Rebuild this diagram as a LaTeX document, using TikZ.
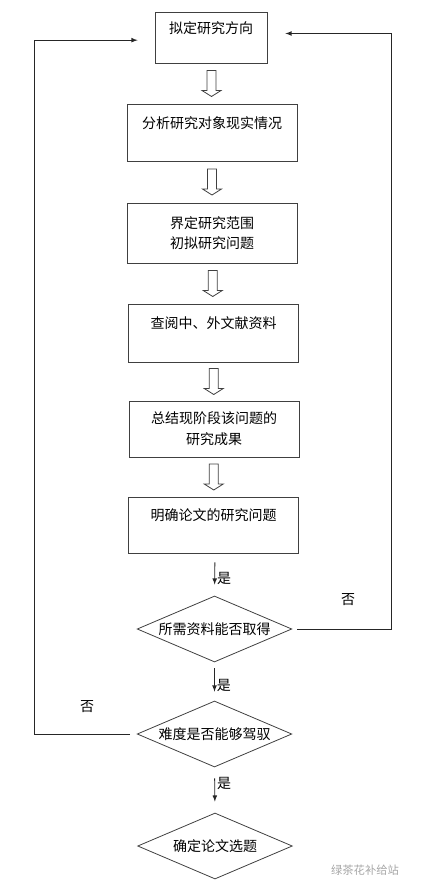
\documentclass[tikz,border=0pt]{standalone}
\usepackage{fontspec}
\setmainfont{Noto Sans CJK SC}
\usetikzlibrary{arrows,calc,shapes.geometric,positioning}
\tikzset{
  stepbox/.style={draw=black!75, line width=0.6pt, rectangle, align=center,
    minimum width=127.5pt, minimum height=43pt, inner sep=2pt},
  choice/.style={draw=black!75, line width=0.6pt, diamond, aspect=2.35,
    inner sep=0pt, minimum width=116pt, minimum height=49.5pt},
  flow/.style={draw=black!85, line width=0.6pt, -latex},
  hollow/.style={draw=black!75, line width=0.6pt, fill=white},
  yes/.style={right, inner sep=1.5pt}
}
\newcommand{\hollowdown}[2]{%
  \draw[hollow] ($(#1.south)!.5!(#2.north)$) ++(-4.5,-13) -- ++(0,20) -- ++(-5,0)
    -- ++(9.5,6) -- ++(9.5,-6) -- ++(-5,0) -- ++(0,-20) -- cycle;}
\begin{document}
\begin{tikzpicture}[x=0.75pt, y=-0.75pt, font=\fontsize{10.5}{15.5}\selectfont]
\useasboundingbox (0,0) rectangle (424,888);
\node[stepbox, minimum width=84pt, minimum height=38.25pt] (b1) at (211,37.5) {拟定研究方向\\ \mbox{}};
\node[stepbox, minimum height=42.75pt] (b2) at (212,132.5) {分析研究对象现实情况\\ \mbox{}};
\node[stepbox, minimum height=45pt] (b3) at (212,233) {界定研究范围\\初拟研究问题};
\node[stepbox, minimum height=43.5pt] (b4) at (213.5,333) {查阅中、外文献资料\\ \mbox{}};
\node[stepbox, minimum height=42pt] (b5) at (214,429) {总结现阶段该问题的\\研究成果};
\node[stepbox, minimum height=42pt] (b6) at (213.5,525) {明确论文的研究问题\\ \mbox{}};
\node[choice] (d1) at (214.5,629) {所需资料能否取得};
\node[choice] (d2) at (214.5,734) {难度是否能够驾驭};
\node[choice] (d3) at (215,846) {确定论文选题};

\hollowdown{b1}{b2}
\hollowdown{b2}{b3}
\hollowdown{b3}{b4}
\hollowdown{b4}{b5}
\hollowdown{b5}{b6}

\draw[flow, shorten <=6.75pt, shorten >=8.25pt] ($(b6.south)+(1.5,0)$) -- node[yes, pos=0.6] (y1) {是} (d1.north);
\draw[flow, shorten <=4.5pt, shorten >=6.75pt] (d1.south) -- node[yes, pos=0.6] (y2) {是} (d2.north);
\draw[flow, shorten <=8.25pt, shorten >=8.25pt] (d2.south) -- node[yes, pos=0.35] (y3) {是} (d3.north);

\draw[flow, shorten <=3.75pt, shorten >=13.5pt] (d1.east) -- ++(99,0) |- ([yshift=3pt]b1.east);
\draw[flow, shorten <=5pt, shorten >=12.75pt] (d2.west) -- ++(-102,0) |- ([yshift=-2pt]b1.west);
\node (no1) at (348,600) {否};
\node (no2) at (87,707) {否};

\node[text=black!35, font=\fontsize{8.5}{10}\selectfont] (mark) at (365,870) {绿茶花补给站};
\end{tikzpicture}
\end{document}
